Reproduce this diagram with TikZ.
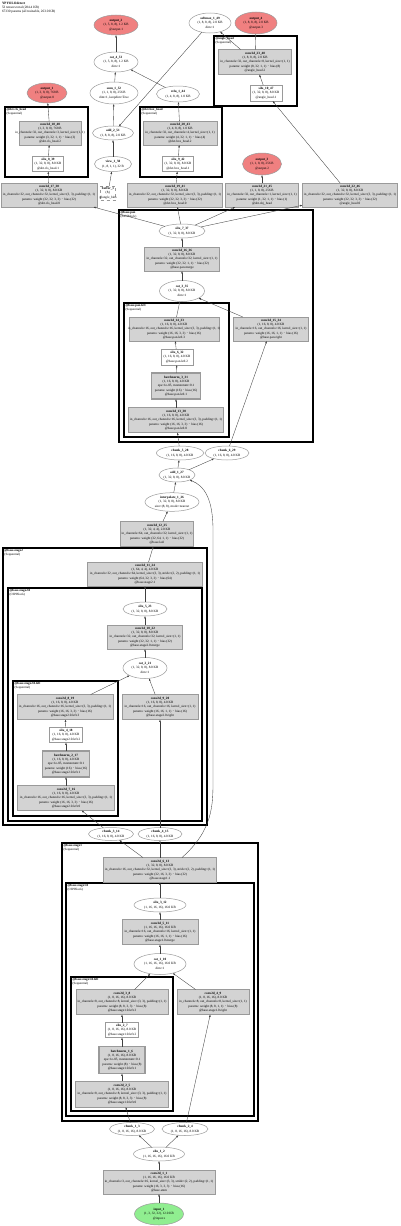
\documentclass[tikz,border=0pt]{standalone}
\usepackage{fontspec}
\setmainfont{Liberation Serif}
\usetikzlibrary{shapes.geometric,arrows.meta}
\definecolor{outred}{HTML}{F08080}
\definecolor{ingreen}{HTML}{90EE90}
\definecolor{convfill}{HTML}{D3D3D3}
\definecolor{bord}{HTML}{9A9A9A}
\newcommand{\T}[1]{\makebox[0pt][c]{\begin{tabular}{@{}c@{}}#1\end{tabular}}}
\begin{document}
\begin{tikzpicture}[x=1pt,y=-1pt,
  every node/.style={font=\fontsize{3.3}{4.4}\selectfont, inner sep=0pt, outer sep=0pt},
  wd/.style={minimum width=#1pt}, ht/.style={minimum height=#1pt},
  conv/.style={rectangle, draw=bord, fill=convfill, line width=0.5pt},
  bnorm/.style={rectangle, draw=bord, fill=convfill, line width=1.2pt},
  sbox/.style={rectangle, draw=bord, fill=white, line width=0.5pt},
  op/.style={ellipse, draw=bord, fill=white, line width=0.5pt},
  outn/.style={ellipse, draw=bord, fill=outred, line width=0.5pt},
  inn/.style={ellipse, draw=bord, fill=ingreen, line width=0.5pt},
  buf/.style={rectangle, draw=bord, dashed, fill=white, line width=0.5pt},
  clus/.style={draw=black, line width=1.1pt},
  clab/.style={anchor=north west, align=left, font=\fontsize{3.2}{3.8}\selectfont},
  conn/.style={draw=black!75, line width=0.35pt, -{Latex[length=2.4pt,width=1.8pt]}}
]
\useasboundingbox (0,0) rectangle (400,1226);
\fill[white] (0,0) rectangle (400,1226);

% header
\node[anchor=north west, align=left, font=\fontsize{3.4}{4}\selectfont] (hdr) at (2,2)
  {\textbf{YPYOLOdetect}\\53 tensors total (284.4 KB)\\67330 params (all trainable, 263.0 KB)};

% clusters
\draw[clus] (5,107) rectangle (88,177);
\node[clab] (l1) at (6.5,108) {\textbf{@det.cls\_head}\\(Sequential)};
\draw[clus] (140,107) rectangle (222,177);
\node[clab] (l2) at (141.5,108) {\textbf{@det.box\_head}\\(Sequential)};
\draw[clus] (214,36) rectangle (297,106);
\node[clab] (l3) at (215.5,37) {\textbf{@angle\_head}\\(Sequential)};
\draw[clus] (119,210) rectangle (313,442);
\node[clab] (l4) at (120.5,211) {\textbf{@base.pan}\\(PANBlock)};
\draw[clus] (124,303) rectangle (229,437);
\node[clab] (l5) at (125.5,304) {\textbf{@base.pan.left}\\(Sequential)};
\draw[clus] (3,548) rectangle (207,825);
\node[clab] (l6) at (4.5,549) {\textbf{@base.stage2}\\(Sequential)};
\draw[clus] (8,588) rectangle (202,821);
\node[clab] (l7) at (9.5,589) {\textbf{@base.stage2.0}\\(CSPBlock)};
\draw[clus] (13,681) rectangle (118,816);
\node[clab] (l8) at (14.5,682) {\textbf{@base.stage2.0.left}\\(Sequential)};
\draw[clus] (62,843) rectangle (258,1121);
\node[clab] (l9) at (63.5,844) {\textbf{@base.stage1}\\(Sequential)};
\draw[clus] (66,883) rectangle (254,1116);
\node[clab] (l10) at (67.5,884) {\textbf{@base.stage1.0}\\(CSPBlock)};
\draw[clus] (71,977) rectangle (173,1111);
\node[clab] (l11) at (72.5,978) {\textbf{@base.stage1.0.left}\\(Sequential)};

% ---- head ----
\node[outn,wd=44,ht=20] (out2) at (116,25) {\T{\textbf{output\_2}\\(1, 5, 8, 8), 1.2 KB\\@output.1}};
\node[op,wd=42,ht=20] (smax) at (210,23) {\T{\textbf{softmax\_1\_49}\\(1, 8, 8, 8), 2.0 KB\\dim=1}};
\node[outn,wd=42,ht=22] (out4) at (256,23) {\T{\textbf{output\_4}\\(1, 8, 8, 8), 2.0 KB\\@output.3}};
\node[op,wd=44,ht=20] (cat4) at (116,62) {\T{\textbf{cat\_4\_53}\\(1, 5, 8, 8), 1.2 KB\\dim=1}};
\node[outn,wd=40,ht=20] (out1) at (47,93) {\T{\textbf{output\_1}\\(1, 3, 8, 8), 768 B\\@output.0}};
\node[op,wd=48,ht=22] (sum1) at (114,93) {\T{\textbf{sum\_1\_52}\\(1, 1, 8, 8), 256 B\\dim=1, keepdim=True}};
\node[op,wd=43,ht=16] (relu1) at (178,94) {\T{\textbf{relu\_1\_44}\\(1, 4, 8, 8), 1.0 KB}};
\node[op,wd=41,ht=14] (add2) at (113,133) {\T{\textbf{add\_2\_51}\\(1, 8, 8, 8), 2.0 KB}};
\node[op,wd=37,ht=15] (view1) at (113,164) {\T{\textbf{view\_1\_50}\\(1, 8, 1, 1), 32 B}};
\node[buf,wd=15,ht=14] (buf1) at (108,193) {\T{\textbf{buffer\_1}\\(8,)\\@angle\_bins}};

\node[conv,wd=62,ht=24] (c1840) at (50,133) {\T{\textbf{conv2d\_18\_40}\\(1, 3, 8, 8), 768 B\\in\_channels=32, out\_channels=3, kernel\_size=(1, 1)\\params: weight (3, 32, 1, 1) $\cdot$ bias (3)\\@det.cls\_head.2}};
\node[sbox,wd=31,ht=15] (s839) at (48,164) {\T{\textbf{silu\_8\_39}\\(1, 32, 8, 8), 8.0 KB\\@det.cls\_head.1}};
\node[conv,wd=74,ht=24] (c2043) at (180,133) {\T{\textbf{conv2d\_20\_43}\\(1, 4, 8, 8), 1.0 KB\\in\_channels=32, out\_channels=4, kernel\_size=(1, 1)\\params: weight (4, 32, 1, 1) $\cdot$ bias (4)\\@det.box\_head.2}};
\node[sbox,wd=31,ht=15] (s942) at (178,164) {\T{\textbf{silu\_9\_42}\\(1, 32, 8, 8), 8.0 KB\\@det.box\_head.1}};
\node[conv,wd=73,ht=25] (c2348) at (255,62) {\T{\textbf{conv2d\_23\_48}\\(1, 8, 8, 8), 2.0 KB\\in\_channels=32, out\_channels=8, kernel\_size=(1, 1)\\params: weight (8, 32, 1, 1) $\cdot$ bias (8)\\@angle\_head.2}};
\node[sbox,wd=32,ht=16] (s1047) at (266,93) {\T{\textbf{silu\_10\_47}\\(1, 32, 8, 8), 8.0 KB\\@angle\_head.1}};
\node[outn,wd=39,ht=22] (out3) at (262,164) {\T{\textbf{output\_3}\\(1, 1, 8, 8), 256 B\\@output.2}};

\node[conv,wd=96,ht=24] (c1738) at (49,195) {\T{\textbf{conv2d\_17\_38}\\(1, 32, 8, 8), 8.0 KB\\in\_channels=32, out\_channels=32, kernel\_size=(3, 3), padding=(1, 1)\\params: weight (32, 32, 3, 3) $\cdot$ bias (32)\\@det.cls\_head.0}};
\node[conv,wd=95,ht=24] (c1941) at (175,195) {\T{\textbf{conv2d\_19\_41}\\(1, 32, 8, 8), 8.0 KB\\in\_channels=32, out\_channels=32, kernel\_size=(3, 3), padding=(1, 1)\\params: weight (32, 32, 3, 3) $\cdot$ bias (32)\\@det.box\_head.0}};
\node[conv,wd=73,ht=24] (c2145) at (262,195) {\T{\textbf{conv2d\_21\_45}\\(1, 1, 8, 8), 256 B\\in\_channels=32, out\_channels=1, kernel\_size=(1, 1)\\params: weight (1, 32, 1, 1) $\cdot$ bias (1)\\@det.obj\_head}};
\node[conv,wd=95,ht=24] (c2246) at (350,195) {\T{\textbf{conv2d\_22\_46}\\(1, 32, 8, 8), 8.0 KB\\in\_channels=32, out\_channels=32, kernel\_size=(3, 3), padding=(1, 1)\\params: weight (32, 32, 3, 3) $\cdot$ bias (32)\\@angle\_head.0}};

% ---- neck ----
\node[op,wd=46,ht=14] (s737) at (182,231) {\T{\textbf{silu\_7\_37}\\(1, 32, 8, 8), 8.0 KB}};
\node[conv,wd=75,ht=24] (c1636) at (182,259) {\T{\textbf{conv2d\_16\_36}\\(1, 32, 8, 8), 8.0 KB\\in\_channels=32, out\_channels=32, kernel\_size=(1, 1)\\params: weight (32, 32, 1, 1) $\cdot$ bias (32)\\@base.pan.merge}};
\node[op,wd=45,ht=21] (cat3) at (182,291) {\T{\textbf{cat\_3\_35}\\(1, 32, 8, 8), 8.0 KB\\dim=1}};
\node[conv,wd=90,ht=24] (c1433) at (174,329) {\T{\textbf{conv2d\_14\_33}\\(1, 16, 8, 8), 4.0 KB\\in\_channels=16, out\_channels=16, kernel\_size=(3, 3), padding=(1, 1)\\params: weight (16, 16, 3, 3) $\cdot$ bias (16)\\@base.pan.left.3}};
\node[conv,wd=75,ht=24] (c1534) at (271,329) {\T{\textbf{conv2d\_15\_34}\\(1, 16, 8, 8), 4.0 KB\\in\_channels=16, out\_channels=16, kernel\_size=(1, 1)\\params: weight (16, 16, 1, 1) $\cdot$ bias (16)\\@base.pan.right}};
\node[sbox,wd=32,ht=16] (s632) at (177,357) {\T{\textbf{silu\_6\_32}\\(1, 16, 8, 8), 4.0 KB\\@base.pan.left.2}};
\node[bnorm,wd=49,ht=26] (b331) at (176,386) {\T{\textbf{batchnorm\_3\_31}\\(1, 16, 8, 8), 4.0 KB\\eps=1e-05, momentum=0.1\\params: weight (16) $\cdot$ bias (16)\\@base.pan.left.1}};
\node[conv,wd=95,ht=25] (c1330) at (176,420) {\T{\textbf{conv2d\_13\_30}\\(1, 16, 8, 8), 4.0 KB\\in\_channels=16, out\_channels=16, kernel\_size=(3, 3), padding=(1, 1)\\params: weight (16, 16, 3, 3) $\cdot$ bias (16)\\@base.pan.left.0}};

\node[op,wd=47,ht=14] (ch5) at (180,453) {\T{\textbf{chunk\_5\_28}\\(1, 16, 8, 8), 4.0 KB}};
\node[op,wd=44,ht=14] (ch6) at (227,453) {\T{\textbf{chunk\_6\_29}\\(1, 16, 8, 8), 4.0 KB}};
\node[op,wd=36,ht=14] (add1) at (177,475) {\T{\textbf{add\_1\_27}\\(1, 32, 8, 8), 8.0 KB}};
\node[op,wd=54,ht=18] (interp) at (172,502) {\T{\textbf{interpolate\_1\_26}\\(1, 32, 8, 8), 8.0 KB\\size=(8, 8), mode=nearest}};
\node[conv,wd=73,ht=25] (c1225) at (157,534) {\T{\textbf{conv2d\_12\_25}\\(1, 32, 4, 4), 2.0 KB\\in\_channels=64, out\_channels=32, kernel\_size=(1, 1)\\params: weight (32, 64, 1, 1) $\cdot$ bias (32)\\@base.lat2}};

% ---- stage2 ----
\node[conv,wd=115,ht=24] (c1124) at (145,574) {\T{\textbf{conv2d\_11\_24}\\(1, 64, 4, 4), 4.0 KB\\in\_channels=32, out\_channels=64, kernel\_size=(3, 3), stride=(2, 2), padding=(1, 1)\\params: weight (64, 32, 3, 3) $\cdot$ bias (64)\\@base.stage2.1}};
\node[op,wd=44,ht=14] (s523) at (145,609) {\T{\textbf{silu\_5\_23}\\(1, 32, 8, 8), 8.0 KB}};
\node[conv,wd=75,ht=24] (c1022) at (145,637) {\T{\textbf{conv2d\_10\_22}\\(1, 32, 8, 8), 8.0 KB\\in\_channels=32, out\_channels=32, kernel\_size=(1, 1)\\params: weight (32, 32, 1, 1) $\cdot$ bias (32)\\@base.stage2.0.merge}};
\node[op,wd=44,ht=21] (cat2) at (145,668) {\T{\textbf{cat\_2\_21}\\(1, 32, 8, 8), 8.0 KB\\dim=1}};
\node[conv,wd=96,ht=25] (c819) at (65,707) {\T{\textbf{conv2d\_8\_19}\\(1, 16, 8, 8), 4.0 KB\\in\_channels=16, out\_channels=16, kernel\_size=(3, 3), padding=(1, 1)\\params: weight (16, 16, 3, 3) $\cdot$ bias (16)\\@base.stage2.0.left.3}};
\node[conv,wd=76,ht=25] (c920) at (160,707) {\T{\textbf{conv2d\_9\_20}\\(1, 16, 8, 8), 4.0 KB\\in\_channels=16, out\_channels=16, kernel\_size=(1, 1)\\params: weight (16, 16, 1, 1) $\cdot$ bias (16)\\@base.stage2.0.right}};
\node[sbox,wd=33,ht=15] (s418) at (66,735) {\T{\textbf{silu\_4\_18}\\(1, 16, 8, 8), 4.0 KB\\@base.stage2.0.left.2}};
\node[bnorm,wd=47,ht=26] (b217) at (66,764) {\T{\textbf{batchnorm\_2\_17}\\(1, 16, 8, 8), 4.0 KB\\eps=1e-05, momentum=0.1\\params: weight (16) $\cdot$ bias (16)\\@base.stage2.0.left.1}};
\node[conv,wd=97,ht=25] (c716) at (66,798) {\T{\textbf{conv2d\_7\_16}\\(1, 16, 8, 8), 4.0 KB\\in\_channels=16, out\_channels=16, kernel\_size=(3, 3), padding=(1, 1)\\params: weight (16, 16, 3, 3) $\cdot$ bias (16)\\@base.stage2.0.left.0}};
\node[op,wd=45,ht=13] (ch3) at (111,834) {\T{\textbf{chunk\_3\_14}\\(1, 16, 8, 8), 4.0 KB}};
\node[op,wd=44,ht=13] (ch4) at (160,834) {\T{\textbf{chunk\_4\_15}\\(1, 16, 8, 8), 4.0 KB}};

% ---- stage1 ----
\node[conv,wd=113,ht=25] (c613) at (160,870) {\T{\textbf{conv2d\_6\_13}\\(1, 32, 8, 8), 8.0 KB\\in\_channels=16, out\_channels=32, kernel\_size=(3, 3), stride=(2, 2), padding=(1, 1)\\params: weight (32, 16, 3, 3) $\cdot$ bias (32)\\@base.stage1.1}};
\node[op,wd=52,ht=14] (s312) at (160,905) {\T{\textbf{silu\_3\_12}\\(1, 16, 16, 16), 16.0 KB}};
\node[conv,wd=76,ht=25] (c511) at (160,932) {\T{\textbf{conv2d\_5\_11}\\(1, 16, 16, 16), 16.0 KB\\in\_channels=16, out\_channels=16, kernel\_size=(1, 1)\\params: weight (16, 16, 1, 1) $\cdot$ bias (16)\\@base.stage1.0.merge}};
\node[op,wd=52,ht=21] (cat1) at (160,964) {\T{\textbf{cat\_1\_10}\\(1, 16, 16, 16), 16.0 KB\\dim=1}};
\node[conv,wd=92,ht=25] (c38) at (122,1002) {\T{\textbf{conv2d\_3\_8}\\(1, 8, 16, 16), 8.0 KB\\in\_channels=8, out\_channels=8, kernel\_size=(3, 3), padding=(1, 1)\\params: weight (8, 8, 3, 3) $\cdot$ bias (8)\\@base.stage1.0.left.3}};
\node[conv,wd=72,ht=25] (c49) at (213,1002) {\T{\textbf{conv2d\_4\_9}\\(1, 8, 16, 16), 8.0 KB\\in\_channels=8, out\_channels=8, kernel\_size=(1, 1)\\params: weight (8, 8, 1, 1) $\cdot$ bias (8)\\@base.stage1.0.right}};
\node[sbox,wd=33,ht=15] (s27) at (122,1030) {\T{\textbf{silu\_2\_7}\\(1, 8, 16, 16), 8.0 KB\\@base.stage1.0.left.2}};
\node[bnorm,wd=46,ht=27] (b16) at (122,1060) {\T{\textbf{batchnorm\_1\_6}\\(1, 8, 16, 16), 8.0 KB\\eps=1e-05, momentum=0.1\\params: weight (8) $\cdot$ bias (8)\\@base.stage1.0.left.1}};
\node[conv,wd=93,ht=26] (c25) at (122,1094) {\T{\textbf{conv2d\_2\_5}\\(1, 8, 16, 16), 8.0 KB\\in\_channels=8, out\_channels=8, kernel\_size=(3, 3), padding=(1, 1)\\params: weight (8, 8, 3, 3) $\cdot$ bias (8)\\@base.stage1.0.left.0}};
\node[op,wd=45,ht=13] (ch1) at (132,1129) {\T{\textbf{chunk\_1\_3}\\(1, 8, 16, 16), 8.0 KB}};
\node[op,wd=46,ht=13] (ch2) at (185,1129) {\T{\textbf{chunk\_2\_4}\\(1, 8, 16, 16), 8.0 KB}};
\node[op,wd=51,ht=14] (s12) at (159,1154) {\T{\textbf{silu\_1\_2}\\(1, 16, 16, 16), 16.0 KB}};
\node[conv,wd=112,ht=24] (c11) at (159,1182) {\T{\textbf{conv2d\_1\_1}\\(1, 16, 16, 16), 16.0 KB\\in\_channels=3, out\_channels=16, kernel\_size=(3, 3), stride=(2, 2), padding=(1, 1)\\params: weight (16, 3, 3, 3) $\cdot$ bias (16)\\@base.stem}};
\node[inn,wd=49,ht=22] (in1) at (159,1214) {\T{\textbf{input\_1}\\(1, 3, 32, 32), 12.0 KB\\@input.x}};

% ---- edges ----
\draw[conn] (in1) -- (c11);
\draw[conn] (c11) -- (s12);
\draw[conn] (s12) -- (ch1);
\draw[conn] (s12) -- (ch2);
\draw[conn] (ch1) -- (c25);
\draw[conn] (c25) -- (b16);
\draw[conn] (b16) -- (s27);
\draw[conn] (s27) -- (c38);
\draw[conn] (c38) -- (cat1);
\draw[conn] (ch2) -- (c49);
\draw[conn] (c49) -- (cat1);
\draw[conn] (cat1) -- (c511);
\draw[conn] (c511) -- (s312);
\draw[conn] (s312) -- (c613);
\draw[conn] (c613) -- (ch3);
\draw[conn] (c613) -- (ch4);
\draw[conn] ([xshift=22pt]c613.north) .. controls (213,830) and (213,805) .. (213,780) -- (213,530) .. controls (213,500) and (205,486) .. (add1);
\draw[conn] (ch3) -- (c716);
\draw[conn] (c716) -- (b217);
\draw[conn] (b217) -- (s418);
\draw[conn] (s418) -- (c819);
\draw[conn] (c819) -- (cat2);
\draw[conn] (ch4) -- (c920);
\draw[conn] (c920) -- (cat2);
\draw[conn] (cat2) -- (c1022);
\draw[conn] (c1022) -- (s523);
\draw[conn] (s523) -- (c1124);
\draw[conn] (c1124) -- (c1225);
\draw[conn] (c1225) -- (interp);
\draw[conn] (interp) -- (add1);
\draw[conn] (add1) -- (ch5);
\draw[conn] (add1) -- (ch6);
\draw[conn] (ch5) -- (c1330);
\draw[conn] (c1330) -- (b331);
\draw[conn] (b331) -- (s632);
\draw[conn] (s632) -- (c1433);
\draw[conn] (c1433) -- (cat3);
\draw[conn] (ch6) -- (c1534);
\draw[conn] (c1534) -- (cat3);
\draw[conn] (cat3) -- (c1636);
\draw[conn] (c1636) -- (s737);
\draw[conn] (s737) -- (c1738);
\draw[conn] (s737) -- (c1941);
\draw[conn] (s737) -- (c2145);
\draw[conn] (s737) -- (c2246);
\draw[conn] (c1738) -- (s839);
\draw[conn] (s839) -- (c1840);
\draw[conn] (c1840) -- (out1);
\draw[conn] (c1941) -- (s942);
\draw[conn] (s942) -- (c2043);
\draw[conn] (c2043) -- (relu1);
\draw[conn] (relu1) -- (cat4);
\draw[conn] (c2145) -- (out3);
\draw[conn] (c2246) -- (s1047);
\draw[conn] (s1047) -- (c2348);
\draw[conn] (c2348) -- (out4);
\draw[conn] (c2348) -- (smax);
\draw[conn] (smax) -- (add2);
\draw[conn] (buf1) -- (view1);
\draw[conn] (view1) -- (add2);
\draw[conn] (add2) -- (sum1);
\draw[conn] (sum1) -- (cat4);
\draw[conn] (cat4) -- (out2);
\end{tikzpicture}
\end{document}
